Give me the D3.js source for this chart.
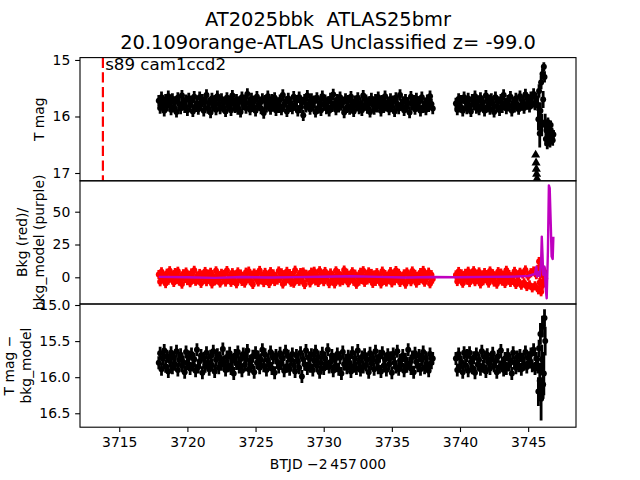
<!DOCTYPE html>
<html><head><meta charset="utf-8">
<script src="https://cdn.jsdelivr.net/npm/d3@7"></script>
<style>body{margin:0;background:#fff}svg{display:block}text{white-space:pre}</style>
</head><body><svg id="c" width="640" height="480"></svg>
<script>
// ---------------- data ----------------
const orbit1Time = [
3717.9,3718.0,3718.1,3718.2,3718.3,3718.4,3718.5,3718.6,3718.7,3718.8,
3718.9,3719.0,3719.1,3719.2,3719.3,3719.4,3719.5,3719.6,3719.7,3719.8,
3719.9,3720.0,3720.1,3720.2,3720.3,3720.4,3720.5,3720.6,3720.7,3720.8,
3720.9,3721.0,3721.1,3721.2,3721.3,3721.4,3721.5,3721.6,3721.7,3721.8,
3721.9,3722.0,3722.1,3722.2,3722.3,3722.4,3722.5,3722.6,3722.7,3722.8,
3722.9,3723.0,3723.1,3723.2,3723.3,3723.4,3723.5,3723.6,3723.7,3723.8,
3723.9,3724.0,3724.1,3724.2,3724.3,3724.4,3724.5,3724.6,3724.7,3724.8,
3724.9,3725.0,3725.1,3725.2,3725.3,3725.4,3725.5,3725.6,3725.7,3725.8,
3725.9,3726.0,3726.1,3726.2,3726.3,3726.4,3726.5,3726.6,3726.7,3726.8,
3726.9,3727.0,3727.1,3727.2,3727.3,3727.4,3727.5,3727.6,3727.7,3727.8,
3727.9,3728.0,3728.1,3728.2,3728.3,3728.4,3728.5,3728.6,3728.7,3728.8,
3728.9,3729.0,3729.1,3729.2,3729.3,3729.4,3729.5,3729.6,3729.7,3729.8,
3729.9,3730.0,3730.1,3730.2,3730.3,3730.4,3730.5,3730.6,3730.7,3730.8,
3730.9,3731.0,3731.1,3731.2,3731.3,3731.4,3731.5,3731.6,3731.7,3731.8,
3731.9,3732.0,3732.1,3732.2,3732.3,3732.4,3732.5,3732.6,3732.7,3732.8,
3732.9,3733.0,3733.1,3733.2,3733.3,3733.4,3733.5,3733.6,3733.7,3733.8,
3733.9,3734.0,3734.1,3734.2,3734.3,3734.4,3734.5,3734.6,3734.7,3734.8,
3734.9,3735.0,3735.1,3735.2,3735.3,3735.4,3735.5,3735.6,3735.7,3735.8,
3735.9,3736.0,3736.1,3736.2,3736.3,3736.4,3736.5,3736.6,3736.7,3736.8,
3736.9,3737.0,3737.1,3737.2,3737.3,3737.4,3737.5,3737.6,3737.7,3737.8,
3737.9,3738.0];
const orbit2Time = [
3739.7,3739.8,3739.9,3740.0,3740.1,3740.2,3740.3,
3740.4,3740.5,3740.6,3740.7,3740.8,3740.9,3741.0,3741.1,3741.2,3741.3,
3741.4,3741.5,3741.6,3741.7,3741.8,3741.9,3742.0,3742.1,3742.2,3742.3,
3742.4,3742.5,3742.6,3742.7,3742.8,3742.9,3743.0,3743.1,3743.2,3743.3,
3743.4,3743.5,3743.6,3743.7,3743.8,3743.9,3744.0,3744.1,3744.2,3744.3,
3744.4,3744.5,3744.6,3744.7,3744.8,3744.9,3745.0,3745.1,3745.2,3745.3,
3745.4,3745.5,3745.6];
const tailTime = [3745.70,3745.75,3745.80,3745.85,3745.90,3745.95,3746.00,3746.05,3746.10,3746.15,3746.20,3746.25,
3746.30,3746.35,3746.40,3746.45,3746.50,3746.55,3746.60,3746.65,3746.70,3746.75,3746.80,3746.85];

// T mag
const tmag1 = [
15.72,15.85,15.66,15.79,15.90,15.70,15.81,15.64,15.76,15.88,
15.69,15.83,15.74,15.92,15.67,15.78,15.86,15.63,15.75,15.84,
15.71,15.89,15.68,15.80,15.73,15.91,15.65,15.82,15.77,15.87,
15.66,15.79,15.70,15.90,15.74,15.62,15.85,15.76,15.93,15.68,
15.81,15.72,15.88,15.64,15.78,15.86,15.69,15.83,15.75,15.91,
15.67,15.80,15.73,15.89,15.63,15.77,15.84,15.70,15.87,15.74,
15.92,15.66,15.79,15.71,15.85,15.60,15.76,15.88,15.68,15.82,
15.73,15.90,15.65,15.80,15.75,15.86,15.69,15.94,15.72,15.83,
15.64,15.78,15.87,15.70,15.81,15.67,15.89,15.76,15.84,15.71,
15.88,15.62,15.79,15.74,15.91,15.68,15.82,15.77,15.86,15.65,
15.80,15.72,15.90,15.66,15.84,15.75,15.98,15.70,15.83,15.63,
15.78,15.87,15.69,15.81,15.73,15.92,15.67,15.85,15.76,15.89,
15.64,15.79,15.71,15.86,15.74,15.90,15.68,15.82,15.61,15.77,
15.88,15.70,15.83,15.66,15.80,15.75,15.93,15.69,15.84,15.72,
15.87,15.65,15.78,15.91,15.73,15.81,15.67,15.86,15.76,15.89,
15.63,15.80,15.71,15.85,15.74,15.92,15.68,15.79,15.87,15.70,
15.83,15.66,15.77,15.90,15.72,15.84,15.64,15.81,15.75,15.88,
15.69,15.82,15.73,15.91,15.67,15.78,15.86,15.62,15.80,15.74,
15.89,15.70,15.83,15.76,15.93,15.65,15.79,15.72,15.87,15.68,
15.81,15.74,15.90,15.66,15.84,15.77,15.88,15.71,15.82,15.64,
15.78,15.86];
const tmag2 = [
15.77,15.88,15.69,15.83,15.72,15.90,15.66,
15.74,15.86,15.68,15.81,15.91,15.70,15.79,15.64,15.85,15.73,
15.88,15.67,15.80,15.75,15.90,15.63,15.83,15.71,15.87,15.69,
15.78,15.92,15.66,15.82,15.74,15.89,15.70,15.84,15.62,15.77,
15.86,15.72,15.81,15.65,15.90,15.76,15.83,15.68,15.79,15.87,
15.64,15.80,15.73,15.85,15.61,15.78,15.70,15.83,15.66,15.76,
15.60,15.79,15.68];
const tmagTail = [15.80,16.05,15.55,16.30,15.90,15.40,16.15,15.25,15.70,15.12,15.30,16.10,
16.40,16.25,16.48,16.10,16.35,16.20,16.45,16.15,16.38,16.28,16.42,16.32];
const tmagTailErr = [0.10,0.20,0.12,0.25,0.15,0.12,0.20,0.10,0.15,0.08,0.10,0.15,
0.12,0.10,0.10,0.08,0.10,0.08,0.10,0.08,0.10,0.08,0.10,0.08];
const tmagBandErr = 0.10;
const limitTime = [3745.55,3745.58,3745.60,3745.62,3745.65];
const limitMag = [16.68,16.82,16.93,17.02,17.10];

// background (red)
const bkg1 = [
2.1,-3.4,4.2,-1.0,0.6,-4.8,3.1,-2.2,5.0,-0.4,
1.5,-3.9,3.6,-1.7,4.6,-2.9,0.2,-5.2,2.7,-0.9,
4.0,-2.5,1.2,-4.1,3.3,-1.4,5.3,-3.0,0.8,-2.0,
2.9,-4.6,1.8,-0.6,4.4,-3.3,2.4,-1.2,3.8,-5.0,
0.4,-2.7,4.9,-1.9,1.1,-4.3,3.0,-0.2,2.2,-3.6,
5.1,-1.5,0.9,-3.8,3.5,-2.4,1.6,-4.9,4.1,-0.7,
2.5,-3.1,0.1,-4.4,3.9,-1.1,4.7,-2.6,1.4,-5.4,
3.2,-0.5,2.0,-3.5,5.2,-1.8,0.7,-4.0,3.7,-2.3,
1.0,-4.7,4.3,-1.3,2.6,-3.2,0.3,-2.1,4.8,-0.8,
3.4,-5.1,1.9,-2.8,4.5,-0.3,2.8,-3.7,1.3,-4.5,
5.4,-1.6,0.5,-3.0,3.6,-2.0,4.0,-5.5,2.3,-0.1,
1.7,-4.2,3.9,-1.4,4.6,-2.7,0.8,-3.9,5.0,-1.0,
2.0,-3.3,4.4,-0.6,1.2,-4.8,3.3,-2.2,0.6,-5.0,
4.9,-1.9,2.7,-3.6,0.9,-2.5,5.5,-1.2,3.1,-4.1,
1.4,-0.4,4.2,-3.0,2.4,-5.3,0.2,-2.9,3.8,-1.7,
5.0,-3.8,1.0,-2.0,4.1,-0.9,2.9,-4.6,1.8,-3.1,
3.5,-1.4,0.4,-5.0,4.7,-2.3,2.1,-3.5,0.9,-1.0,
4.3,-4.2,1.6,-2.6,5.1,-0.5,3.0,-3.9,0.3,-2.0,
2.6,-5.2,4.0,-1.5,1.1,-3.3,4.8,-0.8,2.2,-4.4,
0.7,-2.4,3.6,-1.1,5.2,-3.7,1.5,-0.2,3.9,-4.9,
2.0,-1.3];
const bkg2 = [
1.8,-3.2,4.4,-0.9,2.6,-4.5,0.7,
3.0,-2.1,4.6,-4.0,1.2,-0.6,5.0,-3.3,2.3,-1.5,
4.1,-5.0,0.5,-2.6,3.6,-1.0,1.9,-4.4,4.8,-0.3,
2.7,-3.6,0.9,-5.2,4.3,-1.8,3.2,-2.9,1.4,-4.7,
5.3,-0.8,2.1,-3.9,0.4,-2.2,4.5,-5.4,1.6,-3.0,
3.8,-6.0,2.5,-4.2,5.6,-7.0,1.0,-5.8,3.5,-8.0,
4.8,-6.5,2.0];
const bkgTail = [6.0,-9.5,12.0,-4.0,3.0,-11.0,7.5,-6.0,1.5,-2.5,4.0,-1.0,
null,null,null,null,null,null,null,null,null,null,null,null];
const bkgBandErr = 3.5;

// background model (purple line)
const modelTime = [3717.9,3720.0,3722.0,3724.0,3726.0,3728.0,3730.0,3732.0,3734.0,3736.0,3738.0,3739.7,3742.0,3744.0,
3745.0,3745.5,3745.6,3745.65,3745.75,3745.85,3745.95,3746.0,3746.05,3746.1,3746.2,3746.3,3746.36,3746.45,3746.52,3746.58,3746.66,3746.72,3746.8,3746.85];
const modelVal = [0.3,0.0,-0.4,0.2,-0.2,0.1,0.4,0.8,0.3,-0.1,0.2,0.0,0.3,0.5,
1.0,2.5,8.0,0.5,4.0,1.0,12.0,31.0,18.0,2.0,8.0,-10.0,-16.0,20.0,70.0,68.0,40.0,16.0,14.0,31.0];

// T mag - bkg_model
const sub1 = [
15.80,15.67,15.89,15.74,15.63,15.85,15.71,15.92,15.77,15.66,
15.87,15.73,15.82,15.64,15.90,15.76,15.69,15.84,15.79,15.93,
15.65,15.81,15.72,15.88,15.68,15.83,15.75,15.91,15.62,15.86,
15.78,15.70,15.94,15.74,15.85,15.66,15.80,15.89,15.71,15.83,
15.64,15.92,15.76,15.69,15.87,15.73,15.82,15.61,15.79,15.90,
15.72,15.84,15.67,15.88,15.77,15.95,15.70,15.81,15.65,15.86,
15.75,15.91,15.68,15.83,15.74,15.63,15.89,15.78,15.85,15.71,
15.93,15.66,15.80,15.72,15.87,15.76,15.62,15.84,15.69,15.90,
15.77,15.82,15.65,15.88,15.73,15.94,15.70,15.79,15.86,15.67,
15.81,15.74,15.91,15.64,15.85,15.71,15.89,15.76,15.68,15.83,
15.92,15.70,15.78,15.87,15.66,15.99,15.75,15.82,15.63,15.88,
15.73,15.85,15.69,15.90,15.77,15.64,15.84,15.72,15.93,15.80,
15.67,15.88,15.74,15.81,15.62,15.86,15.79,15.70,15.91,15.76,
15.84,15.68,15.89,15.73,15.95,15.65,15.82,15.77,15.87,15.71,
15.80,15.92,15.66,15.85,15.74,15.88,15.63,15.79,15.90,15.72,
15.86,15.69,15.83,15.76,15.93,15.67,15.81,15.74,15.89,15.64,
15.78,15.87,15.71,15.92,15.66,15.84,15.75,15.90,15.69,15.82,
15.73,15.94,15.68,15.80,15.86,15.64,15.89,15.77,15.83,15.70,
15.91,15.75,15.85,15.62,15.81,15.88,15.72,15.93,15.67,15.79,
15.84,15.70,15.89,15.76,15.65,15.87,15.73,15.82,15.91,15.68,
15.80,15.74];
const sub2 = [
15.74,15.90,15.68,15.85,15.79,15.93,15.66,
15.83,15.70,15.91,15.66,15.79,15.87,15.73,15.94,15.68,15.82,
15.76,15.89,15.64,15.85,15.72,15.92,15.69,15.80,15.88,15.75,
15.67,15.84,15.78,15.93,15.71,15.86,15.63,15.81,15.90,15.74,
15.88,15.69,15.83,15.77,15.95,15.66,15.80,15.87,15.72,15.84,
15.70,15.89,15.75,15.82,15.65,15.86,15.73,15.79,15.68,15.84,
15.62,15.88,15.74];
const subTail = [15.85,16.20,15.60,16.05,15.40,16.30,15.75,15.30,16.10,15.95,15.18,15.50,
null,null,null,null,null,null,null,null,null,null,null,null];
const subTailErr = [0.10,0.20,0.12,0.25,0.15,0.30,0.20,0.15,0.20,0.30,0.12,0.20,
null,null,null,null,null,null,null,null,null,null,null,null];
const subBandErr = 0.09;

const markTime = 3713.8;
const markLabel = "s89 cam1ccd2";
const titleLines = ["AT2025bbk\u00a0\u00a0ATLAS25bmr", "20.109orange-ATLAS Unclassified z= -99.0"];
const xTicks = [3715,3720,3725,3730,3735,3740,3745];
const y1Ticks = [15,16,17];
const y2Ticks = [0,25,50];
const y3Ticks = [15.0,15.5,16.0,16.5];

// ---------------- layout ----------------
const svg = d3.select("#c");
const FONT = "DejaVu Sans";
const L = 80, R = 576, T = 57.6, B = 427.2;
const PH = (B - T) / 3;
const tops = [T, T + PH, T + 2 * PH];

const x = d3.scaleLinear().domain([3712.12, 3748.51]).range([L, R]);
const y1 = d3.scaleLinear().domain([14.958, 17.138]).range([tops[0], tops[0] + PH]);
const y2 = d3.scaleLinear().domain([-20.35, 73.55]).range([tops[1] + PH, tops[1]]);
const y3 = d3.scaleLinear().domain([14.986, 16.693]).range([tops[2], B]);

const defs = svg.append("defs");
tops.forEach((t, i) => {
  defs.append("clipPath").attr("id", "clip" + i)
    .append("rect").attr("x", L).attr("y", t).attr("width", R - L).attr("height", PH);
});

function drawPoints(g, xs, ys, es, color, ysc, r, ew) {
  const idx = d3.range(xs.length).filter(i => ys[i] != null);
  if (es) {
    g.append("g").selectAll("line").data(idx.filter(i => es[i] != null)).join("line")
      .attr("x1", i => x(xs[i])).attr("x2", i => x(xs[i]))
      .attr("y1", i => ysc(ys[i] - es[i])).attr("y2", i => ysc(ys[i] + es[i]))
      .attr("stroke", color).attr("stroke-width", ew);
  }
  g.append("g").selectAll("circle").data(idx).join("circle")
    .attr("cx", i => x(xs[i])).attr("cy", i => ysc(ys[i])).attr("r", r)
    .attr("fill", color);
}

const allTime = orbit1Time.concat(orbit2Time, tailTime);
const nBand = orbit1Time.length + orbit2Time.length;

// Panel 1
const g1 = svg.append("g").attr("clip-path", "url(#clip0)");
const tmagAll = tmag1.concat(tmag2, tmagTail);
const tmagErrAll = tmagAll.map((v, i) => i < nBand ? tmagBandErr : tmagTailErr[i - nBand]);
drawPoints(g1, allTime, tmagAll, tmagErrAll, "#000", y1, 3, 2.8);
g1.append("g").selectAll("path").data(d3.range(limitTime.length)).join("path")
  .attr("d", d3.symbol(d3.symbolTriangle, 36))
  .attr("transform", i => `translate(${x(limitTime[i])},${y1(limitMag[i])})`)
  .attr("fill", "#000");
g1.append("line").attr("x1", x(markTime)).attr("x2", x(markTime))
  .attr("y1", tops[0]).attr("y2", tops[0] + PH)
  .attr("stroke", "red").attr("stroke-width", 2.2).attr("stroke-dasharray", "10.3,4.4");
svg.append("text").attr("x", x(markTime) + 2.3).attr("y", 70)
  .attr("font-family", FONT).attr("font-size", 16.67).text(markLabel);

// Panel 2
const g2 = svg.append("g").attr("clip-path", "url(#clip1)");
const bkgAll = bkg1.concat(bkg2, bkgTail);
drawPoints(g2, allTime, bkgAll, bkgAll.map(() => bkgBandErr), "red", y2, 3, 2.8);
g2.append("path").datum(d3.range(modelTime.length))
  .attr("d", d3.line().x(i => x(modelTime[i])).y(i => y2(modelVal[i])))
  .attr("fill", "none").attr("stroke", "#bf00bf").attr("stroke-width", 2.4)
  .attr("stroke-linejoin", "round");

// Panel 3
const g3 = svg.append("g").attr("clip-path", "url(#clip2)");
const subAll = sub1.concat(sub2, subTail);
const subErrAll = subAll.map((v, i) => i < nBand ? subBandErr : subTailErr[i - nBand]);
drawPoints(g3, allTime, subAll, subErrAll, "#000", y3, 3, 2.8);

// Frames
tops.forEach(t => {
  svg.append("rect").attr("x", L).attr("y", t).attr("width", R - L).attr("height", PH)
    .attr("fill", "none").attr("stroke", "#000").attr("stroke-width", 1.1);
});

function styleAxis(g) {
  g.select(".domain").remove();
  g.attr("font-family", FONT).attr("font-size", 13.9);
  g.selectAll(".tick line").attr("stroke", "#000").attr("stroke-width", 1.1);
  g.selectAll(".tick text").attr("fill", "#000");
}
styleAxis(svg.append("g").attr("transform", `translate(${L},0)`).call(d3.axisLeft(y1).tickValues(y1Ticks).tickFormat(d3.format("d")).tickSize(4.86).tickPadding(4.86)));
styleAxis(svg.append("g").attr("transform", `translate(${L},0)`).call(d3.axisLeft(y2).tickValues(y2Ticks).tickFormat(d3.format("d")).tickSize(4.86).tickPadding(4.86)));
styleAxis(svg.append("g").attr("transform", `translate(${L},0)`).call(d3.axisLeft(y3).tickValues(y3Ticks).tickFormat(d3.format(".1f")).tickSize(4.86).tickPadding(4.86)));
styleAxis(svg.append("g").attr("transform", `translate(0,${B})`).call(d3.axisBottom(x).tickValues(xTicks).tickFormat(d3.format("d")).tickSize(4.86).tickPadding(4.86)));

// Labels
function yLabel(lines, baselineLast, cy) {
  lines.forEach((s, k) => {
    const bx = baselineLast - (lines.length - 1 - k) * 16.7;
    svg.append("text").attr("transform", `translate(${bx},${cy}) rotate(-90)`)
      .attr("text-anchor", "middle").attr("font-family", FONT).attr("font-size", 13.9).text(s);
  });
}
yLabel(["T mag"], 43.7, tops[0] + PH / 2);
yLabel(["Bkg (red)/", "bkg_model (purple)"], 43.7, tops[1] + PH / 2);
yLabel(["T mag \u2212", "bkg_model"], 30.5, tops[2] + PH / 2);

svg.append("text").attr("x", (L + R) / 2).attr("y", 468.5).attr("text-anchor", "middle")
  .attr("font-family", FONT).attr("font-size", 13.9).text("BTJD \u22122\u2009457\u2009000");

titleLines.forEach((s, k) => {
  svg.append("text").attr("x", (L + R) / 2).attr("y", 26 + k * 23.3).attr("text-anchor", "middle")
    .attr("font-family", FONT).attr("font-size", 19.44).text(s);
});
</script></body></html>
